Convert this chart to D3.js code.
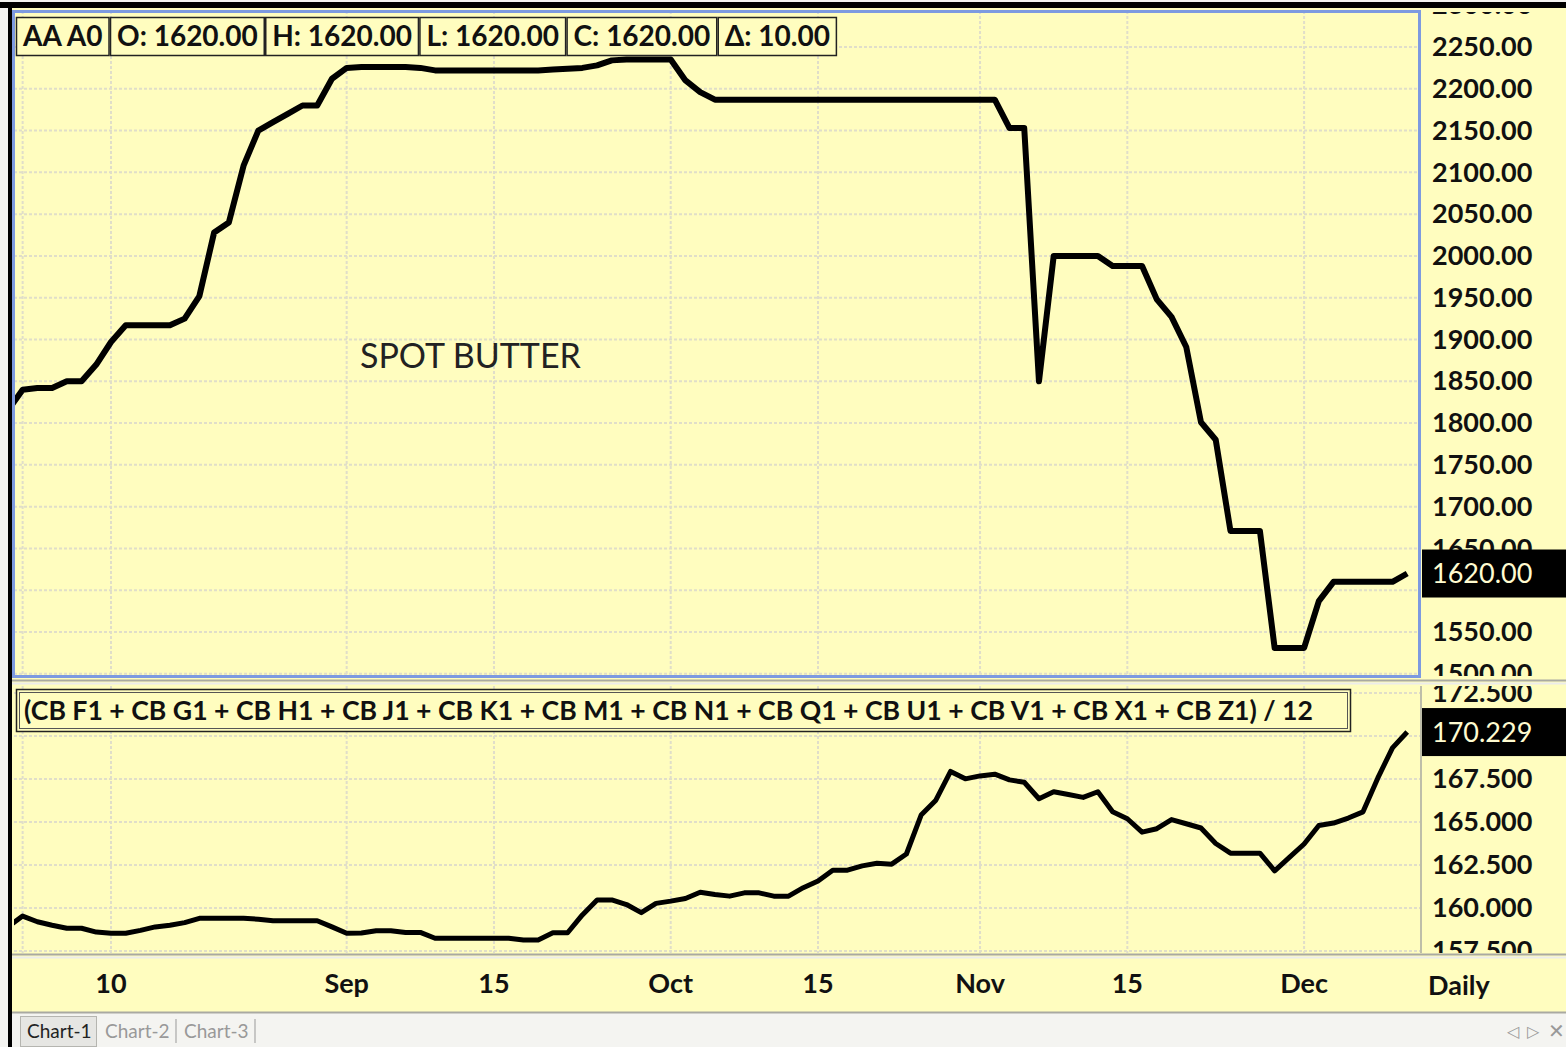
<!DOCTYPE html>
<html>
<head>
<meta charset="utf-8">
<script src="https://cdn.jsdelivr.net/npm/d3@7"></script>
<style>
  body { margin: 0; background: #fff; }
  svg { display: block; font-family: Lato, "Open Sans", sans-serif; }
</style>
</head>
<body>
<svg width="1566" height="1047"></svg>
<script>
// spot butter, one value per trading day (Aug 2010 - Dec 2010)
const butter = [
  1815, 1840, 1842, 1842, 1850, 1850, 1870, 1897, 1917, 1917,
  1917, 1917, 1925, 1952, 2028, 2040, 2108, 2150, 2160, 2170,
  2180, 2180, 2212, 2225, 2226, 2226, 2226, 2226, 2225, 2222,
  2222, 2222, 2222, 2222, 2222, 2222, 2222, 2223, 2224, 2225,
  2228, 2234, 2235, 2235, 2235, 2235, 2210, 2196, 2187, 2187,
  2187, 2187, 2187, 2187, 2187, 2187, 2187, 2187, 2187, 2187,
  2187, 2187, 2187, 2187, 2187, 2187, 2187, 2187, 2153, 2153,
  1850, 2000, 2000, 2000, 2000, 1988, 1988, 1988, 1948, 1927,
  1891, 1801, 1780, 1671, 1671, 1671, 1531, 1531, 1531, 1587,
  1610, 1610, 1610, 1610, 1610, 1620
];

// average of the 12 CB contracts
const cbAvg = [
  158.90, 159.53, 159.20, 159.00, 158.82, 158.82, 158.60, 158.53, 158.53, 158.70,
  158.90, 159.00, 159.15, 159.40, 159.40, 159.40, 159.40, 159.35, 159.26, 159.26,
  159.26, 159.26, 158.90, 158.53, 158.55, 158.68, 158.68, 158.58, 158.58, 158.24,
  158.24, 158.24, 158.24, 158.24, 158.24, 158.14, 158.14, 158.56, 158.56, 159.60,
  160.47, 160.47, 160.20, 159.73, 160.27, 160.40, 160.55, 160.92, 160.78, 160.69,
  160.88, 160.88, 160.69, 160.69, 161.18, 161.57, 162.20, 162.20, 162.45, 162.60,
  162.55, 163.14, 165.40, 166.27, 167.94, 167.51, 167.68, 167.78, 167.45, 167.31,
  166.35, 166.76, 166.60, 166.43, 166.76, 165.60, 165.19, 164.41, 164.61, 165.14,
  164.90, 164.65, 163.75, 163.19, 163.19, 163.19, 162.16, 162.94, 163.72, 164.80,
  164.94, 165.23, 165.59, 167.55, 169.31, 170.229
];

const dateTickIdx = [1, 7, 23, 33, 45, 55, 66, 76, 88];
const dateTickLabels = ["", "10", "Sep", "15", "Oct", "15", "Nov", "15", "Dec"];

// gridline values; the labels hidden behind the last-value boxes are left out
const topTicks = [1500, 1550, 1600, 1650, 1700, 1750, 1800, 1850, 1900, 1950, 2000, 2050, 2100, 2150, 2200, 2250, 2300];
const topLabelTicks = [1500, 1550, 1650, 1700, 1750, 1800, 1850, 1900, 1950, 2000, 2050, 2100, 2150, 2200, 2250, 2300];
const botTicks = [157.5, 160, 162.5, 165, 167.5, 170, 172.5];
const botLabelTicks = [157.5, 160, 162.5, 165, 167.5, 172.5];

const headerLabels = ["AA A0", "O: 1620.00", "H: 1620.00", "L: 1620.00", "C: 1620.00", "Δ: 10.00"];
const lastButter = 1620;
const lastAvg = 170.229;
const bottomTitle = "(CB F1 + CB G1 + CB H1 + CB J1 + CB K1 + CB M1 + CB N1 + CB Q1 + CB U1 + CB V1 + CB X1 + CB Z1) / 12";
const tabNames = ["Chart-1", "Chart-2", "Chart-3"];

const svg = d3.select("svg");
const YELLOW = "#fffdbf";
const GRID = "#e0dec9";

const x = d3.scaleLinear().domain([0, butter.length - 1]).range([7.9, 1407.2]);
const yTop = d3.scaleLinear().domain([1500, 2250]).range([673.8, 47]);
const yBot = d3.scaleLinear().domain([157.5, 172.5]).range([951, 693]);

const panelTop = { x0: 14, x1: 1419, y0: 11, y1: 676 };
const panelBot = { x0: 14, x1: 1420, y0: 686, y1: 953 };

// backgrounds
svg.append("rect").attr("x", 0).attr("y", 0).attr("width", 1566).attr("height", 1047).attr("fill", "#f4f4f1");
svg.append("rect").attr("x", 10).attr("y", 8).attr("width", 1556).attr("height", 1005).attr("fill", YELLOW);

const defs = svg.append("defs");
function clip(id, r) {
  defs.append("clipPath").attr("id", id).append("rect")
    .attr("x", r.x0).attr("y", r.y0).attr("width", r.x1 - r.x0).attr("height", r.y1 - r.y0);
}
clip("clipTop", panelTop);
clip("clipBot", panelBot);
clip("clipTopAxis", { x0: 1420, x1: 1566, y0: 12, y1: panelTop.y1 });
clip("clipBotAxis", { x0: 1420, x1: 1566, y0: panelBot.y0, y1: panelBot.y1 });

function grid(panel, yScale, ticks, clipId) {
  const g = svg.append("g").attr("clip-path", `url(#${clipId})`)
    .attr("stroke", GRID).attr("stroke-width", 2).attr("stroke-dasharray", "3,2");
  g.selectAll("line.h").data(ticks).enter().append("line")
    .attr("x1", panel.x0).attr("x2", panel.x1)
    .attr("y1", d => yScale(d)).attr("y2", d => yScale(d));
  g.selectAll("line.v").data(dateTickIdx).enter().append("line")
    .attr("y1", panel.y0).attr("y2", panel.y1)
    .attr("x1", d => x(d)).attr("x2", d => x(d));
}
grid(panelTop, yTop, topTicks, "clipTop");
grid(panelBot, yBot, botTicks, "clipBot");

// lines
const lineTop = d3.line().x((d, i) => x(i)).y(d => yTop(d));
const lineBot = d3.line().x((d, i) => x(i)).y(d => yBot(d));

svg.append("path").attr("clip-path", "url(#clipTop)")
  .attr("d", lineTop(butter)).attr("fill", "none")
  .attr("stroke", "#000").attr("stroke-width", 6).attr("stroke-linejoin", "round");
svg.append("path").attr("clip-path", "url(#clipBot)")
  .attr("d", lineBot(cbAvg)).attr("fill", "none")
  .attr("stroke", "#000").attr("stroke-width", 5).attr("stroke-linejoin", "round");

// right axes
const axTop = svg.append("g").attr("clip-path", "url(#clipTopAxis)")
  .append("g").attr("transform", "translate(1420,0)")
  .call(d3.axisRight(yTop).tickValues(topLabelTicks).tickSize(0).tickPadding(12).tickFormat(d3.format(".2f")));
const axBot = svg.append("g").attr("clip-path", "url(#clipBotAxis)")
  .append("g").attr("transform", "translate(1420,0)")
  .call(d3.axisRight(yBot).tickValues(botLabelTicks).tickSize(0).tickPadding(12).tickFormat(d3.format(".3f")));
[axTop, axBot].forEach(a => {
  a.select(".domain").remove();
  a.selectAll("text").attr("font-family", "Lato, sans-serif").attr("font-size", 27)
    .attr("font-weight", "bold").attr("fill", "#111");
});

// last value boxes
function lastBox(yv, label) {
  svg.append("rect").attr("x", 1422).attr("y", yv - 24).attr("width", 144).attr("height", 48).attr("fill", "#000");
  svg.append("text").attr("x", 1432).attr("y", yv).attr("dy", "0.35em")
    .attr("font-size", 27).attr("fill", "#fffbd0").text(label);
}
lastBox(yTop(lastButter), d3.format(".2f")(lastButter));
lastBox(yBot(lastAvg), d3.format(".3f")(lastAvg));

// panel frames and separators
svg.append("rect").attr("x", 13.5).attr("y", 11.5).attr("width", 1406).attr("height", 665)
  .attr("fill", "none").attr("stroke", "#7d9ae0").attr("stroke-width", 3);
svg.append("line").attr("x1", 10).attr("x2", 1566).attr("y1", 680.5).attr("y2", 680.5).attr("stroke", "#a9a9a2").attr("stroke-width", 2);
svg.append("line").attr("x1", 10).attr("x2", 1566).attr("y1", 683.5).attr("y2", 683.5).attr("stroke", "#ececea").attr("stroke-width", 2);
svg.append("line").attr("x1", 1421).attr("x2", 1421).attr("y1", 686).attr("y2", 953).attr("stroke", "#a9a9a2").attr("stroke-width", 1.5);
svg.append("line").attr("x1", 10).attr("x2", 1566).attr("y1", 954.5).attr("y2", 954.5).attr("stroke", "#a9a9a2").attr("stroke-width", 2);
svg.append("line").attr("x1", 10).attr("x2", 1566).attr("y1", 957.5).attr("y2", 957.5).attr("stroke", "#ececea").attr("stroke-width", 2);
svg.append("line").attr("x1", 10).attr("x2", 1566).attr("y1", 1012.5).attr("y2", 1012.5).attr("stroke", "#a9a9a2").attr("stroke-width", 2);

// outer black frame
svg.append("rect").attr("x", 0).attr("y", 2).attr("width", 1566).attr("height", 6).attr("fill", "#000");
svg.append("rect").attr("x", 8).attr("y", 2).attr("width", 4).attr("height", 1045).attr("fill", "#000");

// header boxes
const hdr = svg.append("g").attr("font-size", 28).attr("font-weight", "bold");
let hx = 16;
headerLabels.forEach(lbl => {
  const g = hdr.append("g");
  const t = g.append("text").attr("y", 36).attr("dy", "0.35em").attr("fill", "#111").text(lbl);
  const w = t.node().getComputedTextLength() + 13;
  g.insert("rect", "text").attr("x", hx + 0.5).attr("y", 17.5).attr("width", w).attr("height", 38)
    .attr("fill", YELLOW).attr("stroke", "#222").attr("stroke-width", 1.5);
  t.attr("x", hx + 7);
  hx += w + 1.5;
});

svg.append("text").attr("x", 360).attr("y", 356).attr("dy", "0.35em")
  .attr("font-size", 34).attr("fill", "#222").text("SPOT BUTTER");

// bottom title box
const bt = svg.append("g");
bt.append("rect").attr("x", 16.5).attr("y", 689.5).attr("width", 1334).attr("height", 42)
  .attr("fill", YELLOW).attr("stroke", "#222").attr("stroke-width", 1.5);
bt.append("rect").attr("x", 19.5).attr("y", 692.5).attr("width", 1328).attr("height", 36)
  .attr("fill", "none").attr("stroke", "#555").attr("stroke-width", 1);
bt.append("text").attr("x", 24).attr("y", 711).attr("dy", "0.35em")
  .attr("font-size", 27).attr("font-weight", "bold").attr("fill", "#111")
  .attr("textLength", 1289).attr("lengthAdjust", "spacingAndGlyphs").text(bottomTitle);

// date axis
const xa = svg.append("g").attr("font-size", 27).attr("font-weight", "bold").attr("fill", "#111");
xa.selectAll("text").data(dateTickIdx).enter().append("text")
  .attr("x", d => x(d)).attr("y", 984).attr("dy", "0.35em").attr("text-anchor", "middle")
  .text((d, i) => dateTickLabels[i]);
xa.append("text").attr("x", 1428).attr("y", 986).attr("dy", "0.35em").text("Daily");

// tabs
const tabs = svg.append("g").attr("font-size", 19);
tabs.append("rect").attr("x", 20.5).attr("y", 1016.5).attr("width", 76).attr("height", 30)
  .attr("fill", "#e6e6e3").attr("stroke", "#b5b5b0");
const tabX = [27, 105, 184];
tabNames.forEach((n, i) => {
  tabs.append("text").attr("x", tabX[i]).attr("y", 1031).attr("dy", "0.35em")
    .attr("fill", i === 0 ? "#222" : "#999").text(n);
});
[176, 255].forEach(sx => {
  tabs.append("line").attr("x1", sx).attr("x2", sx).attr("y1", 1019).attr("y2", 1043).attr("stroke", "#999");
});
tabs.append("text").attr("x", 1513).attr("y", 1031).attr("dy", "0.35em").attr("text-anchor", "middle")
  .attr("fill", "#999").attr("font-size", 16).text("◁");
tabs.append("text").attr("x", 1533).attr("y", 1031).attr("dy", "0.35em").attr("text-anchor", "middle")
  .attr("fill", "#999").attr("font-size", 16).text("▷");
tabs.append("text").attr("x", 1556).attr("y", 1031).attr("dy", "0.35em").attr("text-anchor", "middle")
  .attr("fill", "#999").attr("font-size", 20).text("✕");
</script>
</body>
</html>
